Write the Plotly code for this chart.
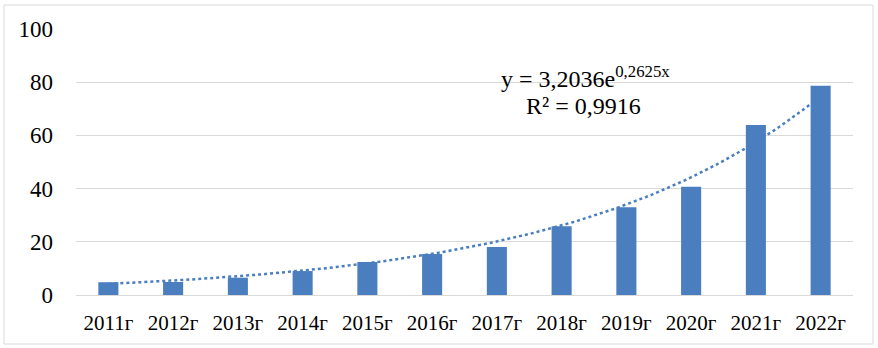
import numpy as np
import plotly.graph_objects as go

categories = ["2011г", "2012г", "2013г", "2014г", "2015г", "2016г",
              "2017г", "2018г", "2019г", "2020г", "2021г", "2022г"]
values = [4.8, 4.9, 6.5, 9.0, 12.4, 15.4, 18.0, 25.8, 33.0, 40.7, 63.9, 78.7]
y_ticks = [0, 20, 40, 60, 80, 100]

# exponential trendline coefficients as displayed on the chart
trend_a = 3.2036
trend_b = 0.2625
r_squared = "0,9916"

x_idx = np.arange(1, len(categories) + 1)
xt = np.linspace(1, len(categories), 200)
yt = trend_a * np.exp(trend_b * xt)

BAR = "#4A7EBE"
FONT = "Liberation Serif, Times New Roman, serif"

fig = go.Figure()
fig.add_trace(go.Bar(x=x_idx, y=values, width=0.31, marker=dict(color=BAR, line=dict(width=0)),
                     showlegend=False, hoverinfo="skip"))
fig.add_trace(go.Scatter(x=xt, y=yt, mode="lines",
                         line=dict(color=BAR, width=2.5, dash="dot"), showlegend=False,
                         hoverinfo="skip"))

L, R, T, B = 76, 25, 29, 53
W, H = 878, 348
pw, ph = W - L - R, H - T - B

def px_to_paper_x(px):
    return (px - L) / pw

def px_to_paper_y(py):
    return (H - B - py) / ph

fig.add_shape(type="rect", xref="paper", yref="paper",
              x0=px_to_paper_x(4), x1=px_to_paper_x(873),
              y0=px_to_paper_y(344), y1=px_to_paper_y(5),
              line=dict(color="#d9d9d9", width=1), fillcolor="rgba(0,0,0,0)", layer="below")

fig.add_annotation(xref="paper", yref="paper",
                   x=px_to_paper_x(585), y=px_to_paper_y(77),
                   text=f"y = {str(trend_a).replace('.', ',')}e<sup>{str(trend_b).replace('.', ',')}x</sup>",
                   showarrow=False, font=dict(family=FONT, size=24, color="#000000"),
                   xanchor="center", yanchor="middle")
fig.add_annotation(xref="paper", yref="paper",
                   x=px_to_paper_x(583), y=px_to_paper_y(106),
                   text=f"R² = {r_squared}",
                   showarrow=False, font=dict(family=FONT, size=24, color="#000000"),
                   xanchor="center", yanchor="middle")

fig.update_layout(
    width=W, height=H,
    margin=dict(l=L, r=R, t=T, b=B),
    paper_bgcolor="white", plot_bgcolor="white",
    font=dict(family=FONT, size=21, color="#000000"),
    hovermode=False,
    xaxis=dict(range=[0.5, len(categories) + 0.5], tickvals=list(x_idx), ticktext=categories,
               showgrid=False, zeroline=False, showline=False, ticks="",
               ticklabelstandoff=13, tickfont=dict(size=21)),
    yaxis=dict(range=[0, 100], tickvals=y_ticks, showgrid=True, gridcolor="#d9d9d9",
               gridwidth=1, zeroline=True, zerolinecolor="#d9d9d9", zerolinewidth=1,
               showline=False, ticks="", ticklabelstandoff=22, tickfont=dict(size=23)),
)

fig.write_html("out.html", config={"displayModeBar": False},
               post_script="document.body.style.margin='0';")
